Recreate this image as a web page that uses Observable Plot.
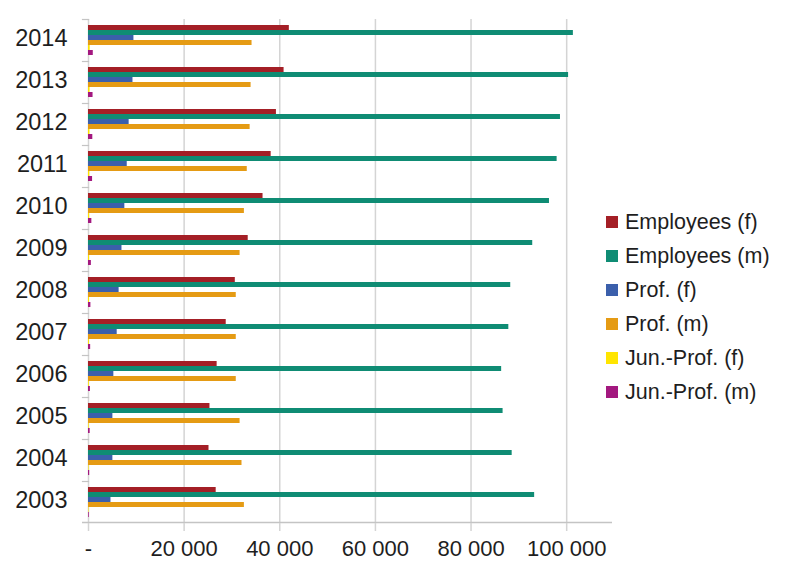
<!DOCTYPE html>
<html>
<head>
<meta charset="utf-8">
<script src="https://cdn.jsdelivr.net/npm/d3@7"></script>
<script src="https://cdn.jsdelivr.net/npm/@observablehq/plot@0.6"></script>
<style>
  html, body { margin: 0; padding: 0; background: #fff; }
  #wrap { position: relative; width: 798px; height: 563px; font-family: "Liberation Sans", Arial, sans-serif; color: #1e1e1e; }
  #legend { position: absolute; left: 606px; top: 205px; font-size: 21.5px; }
  #legend .row { display: flex; align-items: center; height: 34px; }
  #legend .sw { width: 12px; height: 12px; margin-right: 7px; }
</style>
</head>
<body>
<div id="wrap"><div id="legend"></div></div>
<script>
const years = ["2003","2004","2005","2006","2007","2008","2009","2010","2011","2012","2013","2014"];
const seriesNames = ["Employees (f)", "Employees (m)", "Prof. (f)", "Prof. (m)", "Jun.-Prof. (f)", "Jun.-Prof. (m)"];
const seriesColors = ["#a41f26", "#0f8c74", "#3b5fab", "#e59b14", "#ffe500", "#a3187f"];
const employeesF = [26700, 25200, 25400, 26900, 28800, 30700, 33400, 36500, 38200, 39300, 40900, 42000];
const employeesM = [93300, 88600, 86700, 86400, 87900, 88300, 92900, 96400, 98000, 98700, 100400, 101400];
const profF      = [4700, 5100, 5100, 5300, 6000, 6400, 7000, 7600, 8100, 8500, 9300, 9500];
const profM      = [32600, 32100, 31700, 30900, 30900, 30900, 31700, 32600, 33200, 33800, 34000, 34200];
const junProfF   = [100, 120, 150, 170, 190, 210, 230, 250, 280, 300, 320, 350];
const junProfM   = [150, 250, 350, 400, 450, 500, 600, 700, 850, 900, 950, 1000];
const xTicks = [0, 20000, 40000, 60000, 80000, 100000];

const seriesValues = [employeesF, employeesM, profF, profM, junProfF, junProfM];
const rows = [];
years.forEach((yr, i) => {
  seriesNames.forEach((s, j) => rows.push({year: yr, series: s, value: seriesValues[j][i]}));
});

const W = 798, H = 563, mL = 88, mR = 184, mT = 16, mB = 38;
const frameW = W - mL - mR;
const yPadOuter = 0.9;
const step = ((H - mT - mB) / years.length) / (seriesNames.length + 2 * yPadOuter);
const fmt = d => d === 0 ? "-" : d3.format(",")(d).replace(/,/g, " ");

const chart = Plot.plot({
  width: W, height: H,
  marginLeft: mL, marginRight: mR, marginTop: mT, marginBottom: mB,
  style: {fontFamily: "Liberation Sans, Arial, sans-serif", fontSize: "22px", color: "#1e1e1e", background: "#fff"},
  x: {domain: [0, 110000], ticks: xTicks, label: null},
  y: {domain: seriesNames, paddingInner: 0, paddingOuter: yPadOuter, axis: null},
  fy: {domain: years.slice().reverse(), padding: 0, label: null, axis: null},
  color: {domain: seriesNames, range: seriesColors},
  marks: [
    Plot.gridX(xTicks, {stroke: "#d4d4d4", strokeOpacity: 1, strokeWidth: 1.5}),
    Plot.frame({anchor: "top", stroke: "#c4c4c4", strokeWidth: 1.2, insetLeft: -6, insetRight: frameW}),
    Plot.ruleY([{year: "2003", series: seriesNames[seriesNames.length - 1]}], {
      fy: "year", y: "series", x1: -6 * 110000 / frameW, x2: 110000 - 2 * 110000 / frameW,
      stroke: "#c4c4c4", strokeWidth: 1.5, dy: step * (0.5 + yPadOuter)
    }),
    Plot.barX(rows, {fy: "year", y: "series", x: "value", fill: "series"}),
    Plot.axisX(xTicks, {tickFormat: fmt, tickSize: 8, tickPadding: 9, stroke: "#d4d4d4", strokeWidth: 1.5, fill: "#1e1e1e", fontSize: 22}),
    Plot.axisFy({anchor: "left", tickSize: 0, tickPadding: 21, fontSize: 23.5, fill: "#1e1e1e", label: null, dy: -2})
  ]
});
const wrap = document.getElementById("wrap");
wrap.insertBefore(chart, wrap.firstChild);

const legend = document.getElementById("legend");
seriesNames.forEach((s, j) => {
  const row = document.createElement("div");
  row.className = "row";
  const sw = document.createElement("span");
  sw.className = "sw";
  sw.style.background = seriesColors[j];
  const t = document.createElement("span");
  t.textContent = s;
  row.appendChild(sw); row.appendChild(t);
  legend.appendChild(row);
});
</script>
</body>
</html>
